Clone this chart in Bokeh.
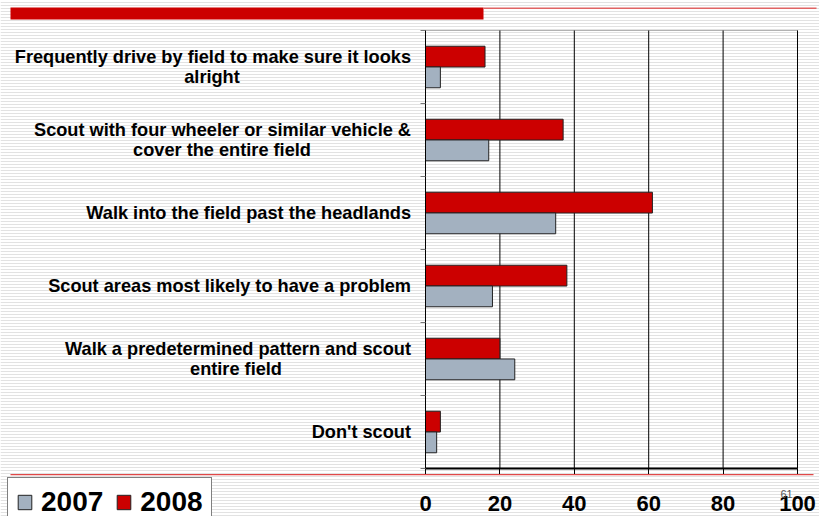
from bokeh.plotting import figure
from bokeh.models import (Range1d, FixedTicker, Label, BoxAnnotation, Legend, LegendItem,
                          ColumnDataSource)
from bokeh.transform import dodge
from bokeh.embed import file_html
from bokeh.resources import INLINE

# ---------------- data ----------------
categories = [
    "Frequently drive by field to make sure it looks alright",
    "Scout with four wheeler or similar vehicle & cover the entire field",
    "Walk into the field past the headlands",
    "Scout areas most likely to have a problem",
    "Walk a predetermined pattern and scout entire field",
    "Don't scout",
]
label_line1 = [
    "Frequently drive by field to make sure it looks",
    "Scout with four wheeler or similar vehicle &",
    "Walk into the field past the headlands",
    "Scout areas most likely to have a problem",
    "Walk a predetermined pattern and scout",
    "Don't scout",
]
label_line2 = ["alright", "cover the entire field", "", "", "entire field", ""]
values_2007 = [4, 17, 35, 18, 24, 3]
values_2008 = [16, 37, 61, 38, 20, 4]
x_ticks = [0, 20, 40, 60, 80, 100]
series_names = ["2007", "2008"]

# ---------------- layout constants (page pixels) ----------------
W, H = 819, 516
AREA_L, AREA_R, AREA_T, AREA_B = 425, 797, 30, 468   # plot area inside the slide
N = len(categories)

def xd(px):
    return (px - AREA_L) / (AREA_R - AREA_L) * 100.0

def yd(py):
    return (AREA_B - py) / (AREA_B - AREA_T) * N

FONT = "Liberation Sans"
RED = "#cc0000"
GREY = "#a3b1c0"

p = figure(width=W, height=H,
           x_range=Range1d(xd(0), xd(W)), y_range=Range1d(yd(H), yd(0)),
           output_backend="svg", toolbar_location=None,
           min_border=0, min_border_left=0, min_border_right=0,
           min_border_top=0, min_border_bottom=0)
p.background_fill_color = "white"
p.border_fill_color = "white"
p.outline_line_color = None
p.xgrid.visible = False
p.ygrid.visible = False

# striped slide background
p.add_layout(BoxAnnotation(left=xd(0), right=xd(W), top=yd(0), bottom=yd(H),
                           fill_alpha=0, line_color=None,
                           hatch_pattern="horizontal_line", hatch_color="#e2e2e2",
                           hatch_scale=3, hatch_weight=1, level="underlay"))

# vertical grid lines and plot-area border
p.segment(x0=x_ticks, x1=x_ticks, y0=[0] * len(x_ticks), y1=[N] * len(x_ticks),
          line_color="black", line_width=1)
p.add_layout(BoxAnnotation(left=0, right=100, bottom=0, top=N, fill_alpha=0,
                           line_color="black", line_width=1, level="underlay"))

# bars (first category at the top)
slot = [N - i - 0.5 for i in range(N)]
src = ColumnDataSource(dict(cat=categories, pos=slot, v07=values_2007, v08=values_2008))
r08 = p.hbar(y=dodge("pos", 0.142), right="v08", left=0, height=0.285,
             source=src, fill_color=RED, line_color="#222222", line_width=1)
r07 = p.hbar(y=dodge("pos", -0.142), right="v07", left=0, height=0.285,
             source=src, fill_color=GREY, line_color="#222222", line_width=1)

# axes drawn at the plot-area edges
p.yaxis.fixed_location = 0
p.yaxis.bounds = (0, N)
p.yaxis.ticker = FixedTicker(ticks=list(range(N + 1)))
p.yaxis.major_label_text_alpha = 0
p.yaxis.major_label_text_font_size = "1px"
p.yaxis.axis_line_color = "black"
p.yaxis.major_tick_out = 5
p.yaxis.major_tick_in = 0
p.yaxis.major_tick_line_color = "#777777"
p.yaxis.minor_tick_line_color = None

p.xaxis.fixed_location = 0
p.xaxis.bounds = (0, 100)
p.xaxis.ticker = FixedTicker(ticks=x_ticks)
p.xaxis.major_label_text_font = FONT
p.xaxis.major_label_text_font_style = "bold"
p.xaxis.major_label_text_font_size = "22px"
p.xaxis.major_label_text_color = "black"
p.xaxis.major_label_standoff = 21
p.xaxis.major_tick_out = 6
p.xaxis.major_tick_in = 0
p.xaxis.major_tick_line_color = "black"
p.xaxis.minor_tick_line_color = None
p.xaxis.axis_line_color = "black"
p.xaxis.axis_line_width = 2

# category labels
RIGHT_EDGE = 410.5
line2_centers = [211.5, 221.5, None, None, 235.5, None]
dy = 9.75 / (AREA_B - AREA_T) * N
for i in range(N):
    two = label_line2[i] != ""
    p.add_layout(Label(x=xd(RIGHT_EDGE), y=slot[i] + (dy if two else 0),
                       text=label_line1[i], text_align="right", text_baseline="middle",
                       text_font=FONT, text_font_style="bold", text_font_size="18.2px",
                       text_color="black"))
    if two:
        p.add_layout(Label(x=xd(line2_centers[i]), y=slot[i] - dy,
                           text=label_line2[i], text_align="center", text_baseline="middle",
                           text_font=FONT, text_font_style="bold", text_font_size="18.2px",
                           text_color="black"))

# slide decorations
p.add_layout(BoxAnnotation(left=xd(10), right=xd(483), top=yd(7), bottom=yd(19),
                           fill_color=RED, fill_alpha=1, line_color=None, level="overlay"))
p.add_layout(BoxAnnotation(left=xd(483), right=xd(816), top=yd(7), bottom=yd(8.5),
                           fill_color="#e06464", fill_alpha=1, line_color=None,
                           level="overlay"))
p.add_layout(BoxAnnotation(left=xd(10), right=xd(813), top=yd(473.5), bottom=yd(474.8),
                           fill_color="#e04848", fill_alpha=1, line_color=None,
                           level="overlay"))

# page number
p.add_layout(Label(x=xd(786), y=yd(493), text="61",
                   text_align="center", text_baseline="middle", text_font=FONT,
                   text_font_size="11px", text_color="#555555"))

legend = Legend(items=[LegendItem(label=series_names[0], renderers=[r07]),
                       LegendItem(label=series_names[1], renderers=[r08])],
                orientation="horizontal", location=(7, H - 479 - 48),
                label_text_font=FONT, label_text_font_style="bold",
                label_text_font_size="28px", label_text_color="black",
                glyph_width=17, glyph_height=18, label_standoff=8, spacing=12,
                padding=8, margin=0, border_line_color="black", border_line_width=1,
                background_fill_color="white", background_fill_alpha=1)
p.add_layout(legend)

open("out.html", "w").write(file_html(p, INLINE))
